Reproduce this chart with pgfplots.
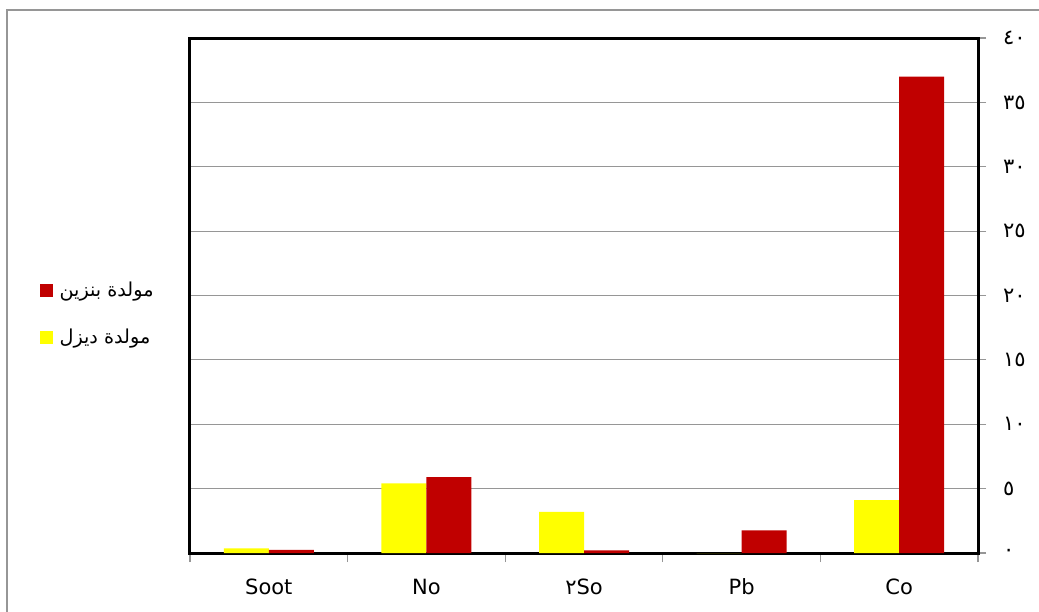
\documentclass[border=0pt]{standalone}
\usepackage{fontspec}
\usepackage{pgfplots}
\pgfplotsset{compat=1.18}
\setmainfont{DejaVu Sans}
\newfontfamily\arabicfont[Script=Arabic]{DejaVu Sans}
\TeXXeTstate=1
\definecolor{barred}{HTML}{C00000}
\definecolor{baryel}{HTML}{FFFF00}
\definecolor{gridgray}{HTML}{969696}
\pgfplotstableread{
x y
0 0.35
1 5.4
2 3.2
3 0
4 4.1
}\diesel
\pgfplotstableread{
x y
0 0.25
1 5.9
2 0.2
3 1.75
4 37
}\petrol
\begin{document}
\begin{tikzpicture}
\useasboundingbox (0,0) rectangle (519.5pt,305.5pt);
\draw[color=gridgray, line width=1pt] (3.5pt,-5pt) -- (3.5pt,300.5pt) -- (525pt,300.5pt);
\begin{axis}[
  at={(95pt,29pt)}, anchor=south west, scale only axis,
  width=394pt, height=257.5pt,
  ybar=0pt, bar width=22.5pt,
  xmin=-0.5, xmax=4.5, ymin=0, ymax=40,
  xtick={0,...,4},
  xticklabels={Soot, No, {{\arabicfont ٢}So}, Pb, Co},
  minor xtick={-0.5,0.5,...,4.5},
  major x tick style={draw=none},
  minor x tick style={gridgray, line width=0.6pt},
  minor tick length=4.5pt,
  xtick pos=left,
  ytick={0,5,...,40},
  yticklabels={{\arabicfont ٠},{\arabicfont ٥},{\arabicfont ١٠},{\arabicfont ١٥},{\arabicfont ٢٠},{\arabicfont ٢٥},{\arabicfont ٣٠},{\arabicfont ٣٥},{\arabicfont ٤٠}},
  ytick pos=right, yticklabel pos=right,
  major y tick style={gridgray, line width=0.6pt},
  major tick length=4pt,
  tick align=outside,
  ymajorgrids, grid style={gridgray, line width=0.6pt},
  axis line style={black, line width=1.5pt},
  tick label style={font=\fontsize{10.5pt}{12pt}\selectfont},
  xticklabel style={yshift=-5pt, text height=8pt, text depth=2pt},
  yticklabel style={xshift=5pt},
  legend style={at={(-0.199,0.464)}, anchor=west, draw=none, fill=none,
    font=\fontsize{9.6pt}{12pt}\selectfont, row sep=11pt,
    /tikz/every odd column/.append style={column sep=1.5pt}},
  legend cell align=left,
  reverse legend,
]
\addplot[fill=baryel, draw=none, legend image code/.code={\fill[baryel] (0pt,-3.25pt) rectangle (6.5pt,3.25pt);}] table[x=x,y=y] {\diesel};
\addlegendentry{\arabicfont\beginR مولدة ديزل\endR}
\addplot[fill=barred, draw=none, legend image code/.code={\fill[barred] (0pt,-3.25pt) rectangle (6.5pt,3.25pt);}] table[x=x,y=y] {\petrol};
\addlegendentry{\arabicfont\beginR مولدة بنزين\endR}
\end{axis}
\end{tikzpicture}
\end{document}
